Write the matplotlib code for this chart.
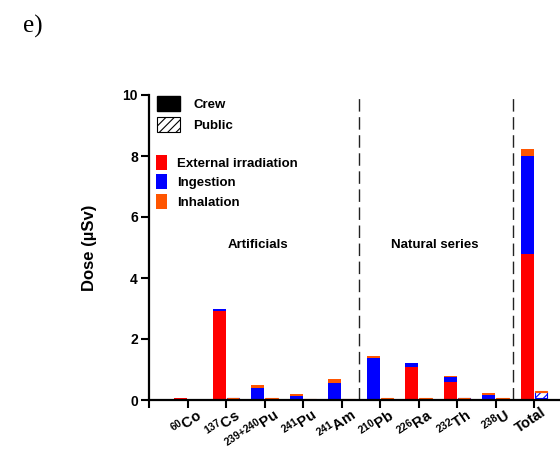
import matplotlib
matplotlib.use("Agg")
import matplotlib.pyplot as plt
from matplotlib.patches import Patch
from matplotlib.transforms import ScaledTranslation, blended_transform_factory
import numpy as np

plt.rcParams['font.family'] = ['Liberation Sans', 'DejaVu Sans']
plt.rcParams['mathtext.fontset'] = 'custom'
plt.rcParams['mathtext.rm'] = 'Liberation Sans:bold'
plt.rcParams['mathtext.it'] = 'Liberation Sans:bold'
plt.rcParams['mathtext.bf'] = 'Liberation Sans:bold'
plt.rcParams['hatch.linewidth'] = 0.8

tick_labels = [r'$^{60}$Co', r'$^{137}$Cs', r'$^{239{+}240}$Pu', r'$^{241}$Pu', r'$^{241}$Am',
               r'$^{210}$Pb', r'$^{226}$Ra', r'$^{232}$Th', r'$^{238}$U', 'Total']

crew_ext = [0.08, 2.93, 0.00, 0.00, 0.00, 0.00, 1.08, 0.59, 0.00, 4.78]
crew_ing = [0.00, 0.07, 0.40, 0.14, 0.57, 1.39, 0.13, 0.15, 0.16, 3.23]
crew_inh = [0.00, 0.00, 0.10, 0.07, 0.12, 0.06, 0.01, 0.05, 0.07, 0.21]

pub_ext = [0.01, 0.03, 0.00, 0.00, 0.00, 0.00, 0.03, 0.03, 0.01, 0.08]
pub_ing = [0.00, 0.05, 0.03, 0.01, 0.01, 0.04, 0.01, 0.02, 0.01, 0.19]
pub_inh = [0.00, 0.00, 0.05, 0.03, 0.03, 0.01, 0.03, 0.03, 0.04, 0.03]

RED, BLUE, ORANGE = '#FF0000', '#0000FF', '#FF5500'

fig = plt.figure(figsize=(5.6, 4.54), dpi=100)
ax = fig.add_axes([149/560, 54/454, (560-149)/560, (400-95)/454])

x = np.arange(1, len(tick_labels) + 1)
w = 0.33

# crew bars (solid)
ext = np.array(crew_ext); ing = np.array(crew_ing); inh = np.array(crew_inh)
ax.bar(x - w/2 - 0.01, ext, w, color=RED, linewidth=0)
ax.bar(x - w/2 - 0.01, ing, w, bottom=ext, color=BLUE, linewidth=0)
ax.bar(x - w/2 - 0.01, inh, w, bottom=ext + ing, color=ORANGE, linewidth=0)

# public bars (hatched)
pe = np.array(pub_ext); pi = np.array(pub_ing); ph = np.array(pub_inh)
ax.bar(x + w/2 + 0.02, pe, w, facecolor='white', edgecolor=RED, hatch='////', linewidth=0.8)
ax.bar(x + w/2 + 0.02, pi, w, bottom=pe, facecolor='white', edgecolor=BLUE, hatch='////', linewidth=0.8)
ax.bar(x + w/2 + 0.02, ph, w, bottom=pe + pi, facecolor='white', edgecolor=ORANGE, hatch='////', linewidth=0.8)

# separators
for xv in (5.46, 9.46):
    ax.axvline(xv, ymin=0, ymax=1, color='#222222', linewidth=1.0, dashes=(9, 4))

ax.text(2.83, 5.08, 'Artificials', ha='center', va='center', fontsize=9.5, fontweight='bold')
ax.text(7.43, 5.08, 'Natural series', ha='center', va='center', fontsize=9.5, fontweight='bold')

ax.set_xlim(0, (560-149)/38.5)
ax.set_ylim(0, 10)
ax.set_yticks([0, 2, 4, 6, 8, 10])
ax.set_xticks(np.arange(0, 11))
ax.set_xticklabels([])

# category labels (rotated), placed under each tick
trans = blended_transform_factory(ax.transData, ax.transAxes) + \
    ScaledTranslation(0.07, -0.05, fig.dpi_scale_trans)
for xi, lab in zip(x, tick_labels):
    ax.text(xi, 0, lab, transform=trans, rotation=34, rotation_mode='anchor',
            ha='right', va='top', fontsize=10.5, fontweight='bold', clip_on=False)

for lab in ax.get_yticklabels():
    lab.set_fontsize(10)
    lab.set_fontweight('bold')

ax.tick_params(axis='both', direction='out', length=6, width=1.5, pad=2)
for s in ('top', 'right'):
    ax.spines[s].set_visible(False)
for s in ('left', 'bottom'):
    ax.spines[s].set_linewidth(1.6)

ax.set_ylabel('Dose (µSv)', fontsize=12, fontweight='bold')
ax.yaxis.set_label_coords(-(149-97)/411, 0.5)

# legends
h1 = [Patch(facecolor='black', edgecolor='black'),
      Patch(facecolor='white', edgecolor='black', hatch='////', linewidth=0.8)]
leg1 = ax.legend(h1, ['Crew', 'Public'], loc='upper left',
                 bbox_to_anchor=(157/560, 1 - 96/454), bbox_transform=fig.transFigure,
                 frameon=False, prop={'weight': 'bold', 'size': 9.5},
                 handlelength=1.75, handleheight=1.35, handletextpad=1.0,
                 labelspacing=0.45, borderpad=0, borderaxespad=0)
ax.add_artist(leg1)
h2 = [Patch(facecolor=RED), Patch(facecolor=BLUE), Patch(facecolor=ORANGE)]
ax.legend(h2, ['External irradiation', 'Ingestion', 'Inhalation'], loc='upper left',
          bbox_to_anchor=(156/560, 1 - 155/454), bbox_transform=fig.transFigure,
          frameon=False, prop={'weight': 'bold', 'size': 9.5},
          handlelength=0.85, handleheight=1.35, handletextpad=0.75,
          labelspacing=0.35, borderpad=0, borderaxespad=0)

fig.text(23/560, 1 - 33/454, 'e)', fontsize=18, family='Liberation Serif', va='baseline', ha='left')

fig.savefig('out.png', dpi=100)
